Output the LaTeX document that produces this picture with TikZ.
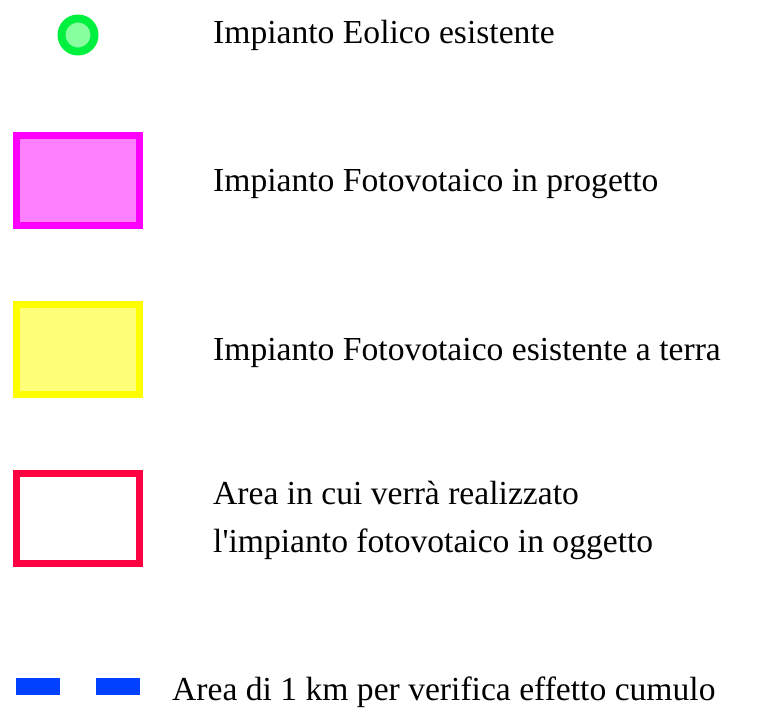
\documentclass[tikz,border=0pt]{standalone}
\usepackage{fontspec}
\setmainfont{Liberation Serif}
\usepackage{xcolor}
\usepackage{tikz}
\usetikzlibrary{positioning}
\definecolor{eolico}{HTML}{00F040}
\definecolor{eolicofill}{HTML}{88FF9E}
\definecolor{fvprog}{HTML}{FF00FF}
\definecolor{fvprogfill}{HTML}{FF80FF}
\definecolor{fvterra}{HTML}{FFFF00}
\definecolor{fvterrafill}{HTML}{FFFF78}
\definecolor{areafv}{HTML}{FF0040}
\definecolor{cumulo}{HTML}{0040FF}

\begin{document}
\begin{tikzpicture}[x=1pt,y=-1pt,
 legtext/.style={anchor=base west, inner sep=0pt, align=left,
  font=\fontsize{33.6}{48}\selectfont},
 legbox/.style={rectangle, line width=7pt, inner sep=0pt,
  minimum width=123pt, minimum height=90pt},
 turbine/.style={circle, draw=eolico, fill=eolicofill, line width=8pt,
  inner sep=0pt, minimum size=33pt},
 buffer/.style={draw=cumulo, line width=17pt, dash pattern=on 44pt off 36pt}]
\useasboundingbox (0,0) rectangle (762,720);
% symbols
 \node[turbine] (eol) at (78,35) {};%
 \node[legbox, draw=fvprog, fill=fvprogfill] (prog) at (78,180) {};%
 \node[legbox, draw=fvterra, fill=fvterrafill] (terra) at (78,349) {};%
 \node[legbox, draw=areafv] (area) at (78,518.5) {};%
 \coordinate (c1) at (16,686.5);
 \coordinate (c2) at (140,686.5);
% texts
 \node[legtext] (teol) at (213,43) {Impianto Eolico esistente};%
 \node[legtext] (tprog) at (213,191) {Impianto Fotovotaico in progetto};%
 \node[legtext] (tterra) at (213,360) {Impianto Fotovotaico esistente a terra};%
 \node[legtext] (tarea) at (213,552) {Area in cui verrà realizzato\\l\textquotesingle impianto fotovotaico in oggetto};%
 \node[legtext] (tcum) at (172,700) {Area di 1 km per verifica effetto cumulo};%
% line
 \draw[buffer] (c1) -- (c2);
\end{tikzpicture}
\end{document}
